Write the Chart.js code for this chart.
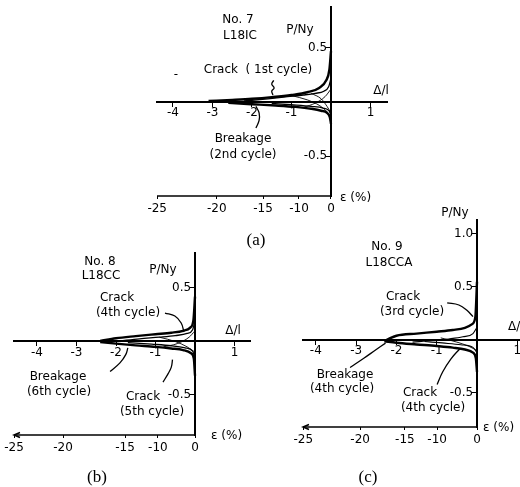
<!DOCTYPE html>
<html>
<head>
<meta charset="utf-8">
<script src="https://cdn.jsdelivr.net/npm/chart.js@4.4.0/dist/chart.umd.min.js"></script>
<style>
  html, body { margin: 0; padding: 0; background: #fff; }
  #wrap { position: relative; width: 520px; height: 487px; overflow: hidden; }
  #wrap canvas { position: absolute; left: 0; top: 0; }
</style>
</head>
<body>
<div id="wrap">
  <canvas id="chart-a" width="520" height="487"></canvas>
  <canvas id="chart-b" width="520" height="487"></canvas>
  <canvas id="chart-c" width="520" height="487"></canvas>
</div>
<script>
// Tick labels
const deltaTicks = [-4, -3, -2, -1, 1];
const loadTicksAB = [0.5, -0.5];
const loadTicksC = [1.0, 0.5, -0.5];
const strainLabels = [-25, -20, -15, -10, 0];
// where each strain label sits along the Δ/l axis
const strainPosA = [-4.4, -2.89, -1.72, -0.81, 0];
const strainPosB = [-4.58, -3.34, -1.77, -0.94, 0];
const strainPosC = [-4.31, -2.9, -1.79, -0.99, 0];

// No.7 L18IC
const a1UpX = [-3.1, -2.5, -2.0, -1.5, -1.0, -0.6, -0.3, -0.12, -0.04, 0];
const a1UpY = [0.01, 0.02, 0.03, 0.045, 0.065, 0.09, 0.13, 0.2, 0.3, 0.47];
const a1LoX = [0, -0.03, -0.1, -0.25, -0.5, -0.9, -1.4, -2.0, -2.6];
const a1LoY = [-0.2, -0.14, -0.1, -0.08, -0.062, -0.045, -0.032, -0.02, -0.008];
const a2UpX = [-2.2, -1.6, -1.1, -0.7, -0.4, -0.18, -0.06, 0];
const a2UpY = [0.01, 0.03, 0.05, 0.065, 0.08, 0.1, 0.14, 0.22];
const a2LoX = [0, -0.05, -0.2, -0.5, -1.0, -1.5];
const a2LoY = [-0.12, -0.08, -0.055, -0.04, -0.025, -0.012];
const aThin1X = [-1.0, -0.6, -0.3, -0.1, 0];
const aThin1Y = [0.06, 0.02, -0.03, -0.09, -0.14];
const aThin2X = [-0.7, -0.4, -0.15, 0];
const aThin2Y = [-0.05, -0.01, 0.05, 0.12];
const aThin3X = [-0.5, -0.25, -0.1, 0];
const aThin3Y = [0.08, 0.03, -0.04, -0.1];
const aCrackX = [-1.45, -1.5, -1.44, -1.5, -1.47];
const aCrackY = [0.2, 0.165, 0.13, 0.1, 0.065];
const aBreakX = [-1.9, -1.82, -1.82, -1.9];
const aBreakY = [-0.04, -0.1, -0.17, -0.24];

// No.8 L18CC
const b1UpX = [-2.4, -2.0, -1.5, -1.0, -0.6, -0.3, -0.12, -0.04, 0];
const b1UpY = [0.005, 0.03, 0.05, 0.068, 0.082, 0.1, 0.13, 0.2, 0.42];
const b1LoX = [0, -0.03, -0.1, -0.3, -0.6, -1.0, -1.5, -2.0, -2.4];
const b1LoY = [-0.32, -0.16, -0.11, -0.08, -0.065, -0.05, -0.036, -0.02, -0.005];
const b2UpX = [-1.9, -1.4, -0.9, -0.5, -0.2, -0.06, 0];
const b2UpY = [0.005, 0.025, 0.04, 0.055, 0.075, 0.11, 0.2];
const b2LoX = [0, -0.06, -0.25, -0.6, -1.1, -1.7];
const b2LoY = [-0.15, -0.09, -0.06, -0.04, -0.025, -0.01];
const bThin1X = [-0.9, -0.5, -0.2, 0];
const bThin1Y = [0.04, 0.0, -0.05, -0.1];
const bThin2X = [-0.8, -0.45, -0.15, 0];
const bThin2Y = [-0.05, -0.02, 0.04, 0.1];
const bCrack4X = [-0.76, -0.51, -0.35, -0.28];
const bCrack4Y = [0.266, 0.238, 0.173, 0.089];
const bBreakX = [-2.15, -1.9, -1.75, -1.7];
const bBreakY = [-0.28, -0.2, -0.12, -0.06];
const bCrack5X = [-0.81, -0.68, -0.6, -0.57];
const bCrack5Y = [-0.38, -0.3, -0.24, -0.17];

// No.9 L18CCA
const c1UpX = [-2.25, -2.0, -1.5, -1.0, -0.6, -0.3, -0.12, -0.04, 0];
const c1UpY = [0.0, 0.04, 0.06, 0.078, 0.094, 0.115, 0.15, 0.22, 0.55];
const c1LoX = [0, -0.03, -0.1, -0.3, -0.6, -1.0, -1.5, -2.0, -2.3];
const c1LoY = [-0.3, -0.17, -0.12, -0.09, -0.072, -0.057, -0.042, -0.026, -0.012];
const c2UpX = [-1.6, -1.1, -0.7, -0.35, -0.1, 0];
const c2UpY = [-0.02, -0.005, 0.01, 0.03, 0.06, 0.12];
const c2LoX = [0, -0.1, -0.4, -0.8, -1.3];
const c2LoY = [-0.12, -0.07, -0.045, -0.03, -0.015];
const cThin1X = [-0.9, -0.5, -0.2, 0];
const cThin1Y = [0.02, -0.02, -0.06, -0.1];
const cCrack3X = [-0.74, -0.45, -0.25, -0.1];
const cCrack3Y = [0.35, 0.33, 0.28, 0.22];
const cBreakX = [-3.15, -2.8, -2.5, -2.27];
const cBreakY = [-0.26, -0.17, -0.09, -0.03];
const cCrack4X = [-0.99, -0.85, -0.65, -0.42];
const cCrack4Y = [-0.42, -0.3, -0.18, -0.08];

const INK = '#000';
const FONT = '12px "DejaVu Sans", sans-serif';
const STRAIN_BAND = 30; // height kept for the strain tick labels

function curve(xs, ys, width, smooth) {
  return {
    data: xs.map((x, i) => ({ x: x, y: ys[i] })),
    showLine: true,
    borderColor: INK,
    borderWidth: width,
    pointRadius: 0,
    fill: false,
    tension: smooth === 'mono' ? 0 : 0.4,
    cubicInterpolationMode: smooth === 'mono' ? 'monotone' : 'default'
  };
}

// the centred axes take no room, so the chart area comes from the padding
function noHeight(s) { s.height = 0; s.paddingLeft = 0; s.paddingRight = 0; }
function noWidth(s) { s.width = 0; s.paddingTop = 0; s.paddingBottom = 0; }
function strainBand(s) { s.height = STRAIN_BAND; s.paddingLeft = 0; s.paddingRight = 0; }

const textPlugin = {
  id: 'figText',
  afterDraw(chart) {
    const cfg = chart.options.plugins.figText;
    const ctx = chart.ctx;
    const area = chart.chartArea;
    const x0 = chart.scales.x.getPixelForValue(0);

    // strain axis: stops at the load axis, arrow on the left
    ctx.save();
    ctx.strokeStyle = INK;
    ctx.lineWidth = 1.5;
    ctx.beginPath();
    ctx.moveTo(area.left, area.bottom);
    ctx.lineTo(x0, area.bottom);
    ctx.stroke();
    if (cfg.arrow) {
      ctx.beginPath();
      ctx.moveTo(area.left + 6, area.bottom - 2.5);
      ctx.lineTo(area.left, area.bottom);
      ctx.lineTo(area.left + 6, area.bottom + 2.5);
      ctx.stroke();
    }

    ctx.fillStyle = INK;
    ctx.textBaseline = 'middle';
    cfg.labels.forEach(l => {
      ctx.font = l.font || FONT;
      ctx.textAlign = l.align || 'center';
      ctx.fillText(l.t, l.x, l.y);
    });
    ctx.restore();
  }
};

function buildChart(id, o) {
  const ctx = document.getElementById(id).getContext('2d');
  const tickFont = { family: '"DejaVu Sans"', size: 12 };
  return new Chart(ctx, {
    type: 'scatter',
    data: { datasets: o.datasets },
    options: {
      responsive: false,
      animation: false,
      devicePixelRatio: 1,
      layout: { padding: o.padding },
      plugins: {
        legend: { display: false },
        tooltip: { enabled: false },
        figText: { labels: o.labels, arrow: o.arrow }
      },
      scales: {
        x: {
          type: 'linear',
          position: { y: 0 },
          min: o.xRange[0],
          max: o.xRange[1],
          afterBuildTicks: s => { s.ticks = deltaTicks.map(v => ({ value: v })); },
          afterFit: noHeight,
          ticks: { color: INK, font: tickFont, padding: 0, autoSkip: false, maxRotation: 0 },
          grid: { drawOnChartArea: false, drawTicks: true, tickLength: 4, color: INK },
          border: { display: true, color: INK, width: 2 }
        },
        y: {
          type: 'linear',
          position: { x: 0 },
          min: o.yRange[0],
          max: o.yRange[1],
          afterBuildTicks: s => { s.ticks = o.loadTicks.map(v => ({ value: v })); },
          afterFit: noWidth,
          ticks: { color: INK, font: tickFont, autoSkip: false,
                   callback: v => v.toFixed(1) + ' ' },
          grid: { drawOnChartArea: false, drawTicks: true, tickLength: 4, color: INK },
          border: { display: true, color: INK, width: 2 }
        },
        e: {
          type: 'linear',
          axis: 'x',
          position: 'bottom',
          min: o.xRange[0],
          max: o.xRange[1],
          afterBuildTicks: s => { s.ticks = o.strainPos.map(v => ({ value: v })); },
          afterFit: strainBand,
          ticks: { color: INK, font: tickFont, padding: 3, autoSkip: false, maxRotation: 0,
                   callback: (v, i) => strainLabels[i] },
          grid: { drawOnChartArea: false, drawTicks: true, tickLength: 3, color: INK },
          border: { display: false }
        }
      }
    },
    plugins: [textPlugin]
  });
}

// (a) No.7
buildChart('chart-a', {
  padding: { left: 157, top: 7, right: 133, bottom: 291 - STRAIN_BAND },
  xRange: [-4.405, 1.418],
  yRange: [-0.866, 0.876],
  loadTicks: loadTicksAB,
  strainPos: strainPosA,
  arrow: false,
  datasets: [
    curve(a1UpX, a1UpY, 2.4, 'mono'),
    curve(a1LoX, a1LoY, 2.4, 'mono'),
    curve(a2UpX, a2UpY, 1.3, 'mono'),
    curve(a2LoX, a2LoY, 1.3, 'mono'),
    curve(aThin1X, aThin1Y, 0.9, 'mono'),
    curve(aThin2X, aThin2Y, 0.9, 'mono'),
    curve(aThin3X, aThin3Y, 0.9, 'mono'),
    curve(aCrackX, aCrackY, 1.3),
    curve(aBreakX, aBreakY, 1.3)
  ],
  labels: [
    { t: 'No. 7', x: 238, y: 20 },
    { t: 'L18IC', x: 240, y: 36 },
    { t: 'P/Ny', x: 300, y: 30 },
    { t: 'Crack  ( 1st cycle)', x: 258, y: 70 },
    { t: '-', x: 176, y: 75 },
    { t: 'Δ/l', x: 381, y: 91 },
    { t: 'Breakage', x: 243, y: 139 },
    { t: '(2nd cycle)', x: 243, y: 155 },
    { t: 'ε (%)', x: 340, y: 198, align: 'left' },
    { t: '(a)', x: 256, y: 241, font: '17px "Liberation Serif", serif' }
  ]
});

// (b) No.8
buildChart('chart-b', {
  padding: { left: 14, top: 253, right: 270, bottom: 52 - STRAIN_BAND },
  xRange: [-4.582, 1.392],
  yRange: [-0.874, 0.827],
  loadTicks: loadTicksAB,
  strainPos: strainPosB,
  arrow: true,
  datasets: [
    curve(b1UpX, b1UpY, 2.4, 'mono'),
    curve(b1LoX, b1LoY, 2.4, 'mono'),
    curve(b2UpX, b2UpY, 1.3, 'mono'),
    curve(b2LoX, b2LoY, 1.3, 'mono'),
    curve(bThin1X, bThin1Y, 0.9, 'mono'),
    curve(bThin2X, bThin2Y, 0.9, 'mono'),
    curve(bCrack4X, bCrack4Y, 1.3),
    curve(bBreakX, bBreakY, 1.3),
    curve(bCrack5X, bCrack5Y, 1.3)
  ],
  labels: [
    { t: 'No. 8', x: 100, y: 262 },
    { t: 'L18CC', x: 101, y: 276 },
    { t: 'P/Ny', x: 163, y: 270 },
    { t: 'Crack', x: 117, y: 298 },
    { t: '(4th cycle)', x: 128, y: 313 },
    { t: 'Δ/l', x: 233, y: 331 },
    { t: 'Breakage', x: 58, y: 377 },
    { t: '(6th cycle)', x: 59, y: 392 },
    { t: 'Crack', x: 143, y: 397 },
    { t: '(5th cycle)', x: 152, y: 412 },
    { t: 'ε (%)', x: 211, y: 436, align: 'left' },
    { t: '(b)', x: 97, y: 478, font: '17px "Liberation Serif", serif' }
  ]
});

// (c) No.9
buildChart('chart-c', {
  padding: { left: 303, top: 220, right: 0, bottom: 60 - STRAIN_BAND },
  xRange: [-4.318, 1.067],
  yRange: [-0.821, 1.132],
  loadTicks: loadTicksC,
  strainPos: strainPosC,
  arrow: true,
  datasets: [
    curve(c1UpX, c1UpY, 2.4, 'mono'),
    curve(c1LoX, c1LoY, 2.4, 'mono'),
    curve(c2UpX, c2UpY, 1.1, 'mono'),
    curve(c2LoX, c2LoY, 1.1, 'mono'),
    curve(cThin1X, cThin1Y, 0.9, 'mono'),
    curve(cCrack3X, cCrack3Y, 1.3),
    curve(cBreakX, cBreakY, 1.3),
    curve(cCrack4X, cCrack4Y, 1.3)
  ],
  labels: [
    { t: 'P/Ny', x: 455, y: 213 },
    { t: 'No. 9', x: 387, y: 247 },
    { t: 'L18CCA', x: 389, y: 263 },
    { t: 'Crack', x: 403, y: 297 },
    { t: '(3rd cycle)', x: 412, y: 312 },
    { t: 'Δ/l', x: 508, y: 327, align: 'left' },
    { t: 'Breakage', x: 345, y: 375 },
    { t: '(4th cycle)', x: 342, y: 389 },
    { t: 'Crack', x: 420, y: 393 },
    { t: '(4th cycle)', x: 433, y: 408 },
    { t: 'ε (%)', x: 483, y: 428, align: 'left' },
    { t: '(c)', x: 368, y: 478, font: '17px "Liberation Serif", serif' }
  ]
});
</script>
</body>
</html>
